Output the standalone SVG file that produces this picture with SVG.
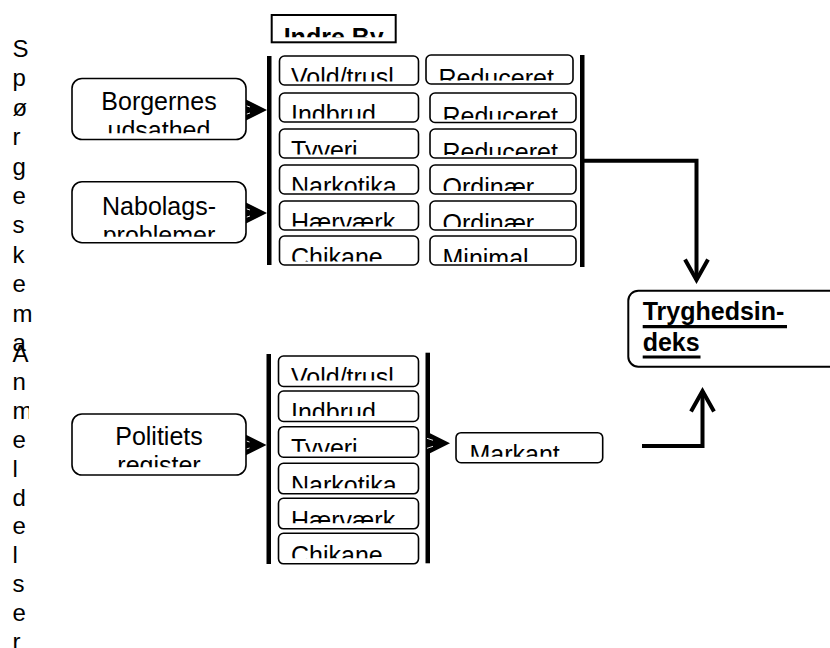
<svg xmlns="http://www.w3.org/2000/svg" width="830" height="648" viewBox="0 0 830 648">
<style>
.bx{fill:#fff;stroke:#000;stroke-width:1.6}
.bx2{fill:#fff;stroke:#000;stroke-width:2}
.t{font-family:"Liberation Sans",Arial,sans-serif;font-size:25px;fill:#000}
.c{text-anchor:middle}
.bd{font-weight:bold}
.bar{fill:#000}
.cn{fill:none;stroke:#000;stroke-width:4;stroke-linejoin:miter}
.hd{fill:none;stroke:none}
.sd{font-family:"Liberation Sans",Arial,sans-serif;font-size:24px;fill:#000}
.ul{stroke:#000;stroke-width:3.2}
</style>
<defs>
<marker id="tri" markerUnits="userSpaceOnUse" markerWidth="30" markerHeight="30" refX="0" refY="0" orient="auto" overflow="visible">
<polygon points="0,0 -22,-11 -22,11" fill="#000"/>
<path d="M-23,-5 L-17,-3 M-23,5 L-17,3" stroke="#fff" stroke-width="0.9" fill="none"/>
</marker>
<marker id="chev" markerUnits="userSpaceOnUse" markerWidth="30" markerHeight="30" refX="0" refY="0" orient="auto" overflow="visible">
<path d="M-20.5,-11.5 L0,0 L-20.5,11.5" fill="none" stroke="#000" stroke-width="4" stroke-linejoin="miter"/>
</marker>
<clipPath id="cpI"><rect x="273" y="16" width="122" height="21.3"/></clipPath>
<clipPath id="cpB"><rect x="73" y="79.5" width="172" height="53.8"/></clipPath>
<clipPath id="cpN"><rect x="73" y="182.7" width="172" height="54"/></clipPath>
<clipPath id="cpP"><rect x="73" y="415" width="172" height="52.3"/></clipPath>
<clipPath id="u1"><rect x="280" y="57" width="138" height="24.5"/></clipPath>
<clipPath id="u2"><rect x="280" y="94" width="138" height="24.5"/></clipPath>
<clipPath id="u3"><rect x="280" y="130" width="138" height="24.5"/></clipPath>
<clipPath id="u4"><rect x="280" y="166" width="138" height="24.5"/></clipPath>
<clipPath id="u5"><rect x="280" y="202" width="138" height="24.5"/></clipPath>
<clipPath id="u6"><rect x="280" y="237" width="138" height="24.5"/></clipPath>
<clipPath id="r1"><rect x="427" y="56" width="145" height="24.5"/></clipPath>
<clipPath id="r2"><rect x="431" y="94" width="144" height="25.5"/></clipPath>
<clipPath id="r3"><rect x="431" y="130" width="144" height="25"/></clipPath>
<clipPath id="r4"><rect x="431" y="166" width="144" height="25"/></clipPath>
<clipPath id="r5"><rect x="431" y="202" width="144" height="25"/></clipPath>
<clipPath id="r6"><rect x="431" y="237" width="144" height="25"/></clipPath>
<clipPath id="l1"><rect x="279" y="357" width="139" height="23.5"/></clipPath>
<clipPath id="l2"><rect x="279" y="392" width="139" height="24"/></clipPath>
<clipPath id="l3"><rect x="279" y="427.7" width="139" height="24"/></clipPath>
<clipPath id="l4"><rect x="279" y="464.3" width="139" height="24"/></clipPath>
<clipPath id="l5"><rect x="279" y="499.3" width="139" height="24"/></clipPath>
<clipPath id="l6"><rect x="279" y="534.3" width="139" height="24"/></clipPath>
<clipPath id="cpM"><rect x="457" y="433.7" width="145" height="23"/></clipPath>
<clipPath id="cpL"><rect x="0" y="330" width="29" height="330"/></clipPath>
</defs>
<rect x="0" y="0" width="830" height="648" fill="#fff"/>

<g id="label-spoergeskema">
<text class="sd"><tspan x="12.5" y="57">S</tspan><tspan x="12.5" y="86.4">p</tspan><tspan x="12.5" y="115.8">ø</tspan><tspan x="12.5" y="145.2">r</tspan><tspan x="12.5" y="174.6">g</tspan><tspan x="12.5" y="204">e</tspan><tspan x="12.5" y="233.4">s</tspan><tspan x="12.5" y="262.8">k</tspan><tspan x="12.5" y="292.2">e</tspan><tspan x="12.5" y="321.6">m</tspan><tspan x="12.5" y="351">a</tspan></text>
</g>
<g id="label-anmeldelser" clip-path="url(#cpL)">
<text class="sd"><tspan x="12.5" y="361.5">A</tspan><tspan x="12.5" y="390.3">n</tspan><tspan x="12.5" y="419.1">m</tspan><tspan x="12.5" y="447.9">e</tspan><tspan x="12.5" y="476.7">l</tspan><tspan x="12.5" y="505.5">d</tspan><tspan x="12.5" y="534.3">e</tspan><tspan x="12.5" y="563.1">l</tspan><tspan x="12.5" y="591.9">s</tspan><tspan x="12.5" y="620.7">e</tspan><tspan x="12.5" y="649.5">r</tspan></text>
</g>

<g id="connectors">
<rect class="bar" x="267" y="56" width="4.5" height="209"/>
<rect class="bar" x="580" y="55" width="4.5" height="212"/>
<rect class="bar" x="266.5" y="354" width="4.5" height="210"/>
<rect class="bar" x="425.5" y="352.7" width="4.5" height="210.6"/>
<path class="hd" d="M245,110 H267" marker-end="url(#tri)"/>
<path class="hd" d="M245,213 H267" marker-end="url(#tri)"/>
<path class="hd" d="M245,445 H266.5" marker-end="url(#tri)"/>
<path class="hd" d="M430,443.3 H450" marker-end="url(#tri)"/>
<path class="cn" d="M584,160.7 H696.5 V280" marker-end="url(#chev)"/>
<path class="cn" d="M642,446 H702.5 V391" marker-end="url(#chev)"/>
</g>

<g id="node-indre-by">
<rect class="bx2" x="271.7" y="15" width="124" height="27.3"/>
<text class="t bd c" x="333.7" y="46.3" clip-path="url(#cpI)">Indre By</text>
</g>

<g id="node-borgernes">
<rect class="bx" x="72" y="78.5" width="174" height="61" rx="10"/>
<text class="t c" clip-path="url(#cpB)"><tspan x="159" y="110">Borgernes</tspan><tspan x="159" y="138.75">udsathed</tspan></text>
</g>
<g id="node-nabolags">
<rect class="bx" x="72" y="181.7" width="174" height="61" rx="10"/>
<text class="t c" clip-path="url(#cpN)"><tspan x="159" y="215">Nabolags-</tspan><tspan x="159" y="243.75">problemer</tspan></text>
</g>
<g id="node-politiets">
<rect class="bx" x="72" y="414" width="174" height="61" rx="10"/>
<text class="t c" clip-path="url(#cpP)"><tspan x="159" y="445">Politiets</tspan><tspan x="159" y="473.75">register</tspan></text>
</g>

<g id="node-u-vold"><rect class="bx" x="279.5" y="56" width="139" height="29" rx="5"/><text class="t" x="291" y="86" clip-path="url(#u1)">Vold/trusl</text></g>
<g id="node-u-indbrud"><rect class="bx" x="279.5" y="93" width="139" height="29" rx="5"/><text class="t" x="291" y="123" clip-path="url(#u2)">Indbrud</text></g>
<g id="node-u-tyveri"><rect class="bx" x="279.5" y="129" width="139" height="29" rx="5"/><text class="t" x="291" y="159" clip-path="url(#u3)">Tyveri</text></g>
<g id="node-u-narkotika"><rect class="bx" x="279.5" y="165" width="139" height="29" rx="5"/><text class="t" x="291" y="195" clip-path="url(#u4)">Narkotika</text></g>
<g id="node-u-haervaerk"><rect class="bx" x="279.5" y="201" width="139" height="29" rx="5"/><text class="t" x="291" y="231" clip-path="url(#u5)">Hærværk</text></g>
<g id="node-u-chikane"><rect class="bx" x="279.5" y="236" width="139" height="29" rx="5"/><text class="t" x="291" y="266" clip-path="url(#u6)">Chikane</text></g>

<g id="node-r-1"><rect class="bx" x="426" y="55" width="147" height="29" rx="5"/><text class="t" x="438.5" y="86.5" clip-path="url(#r1)">Reduceret</text></g>
<g id="node-r-2"><rect class="bx" x="430" y="93" width="146" height="29.5" rx="5"/><text class="t" x="442.5" y="124.5" clip-path="url(#r2)">Reduceret</text></g>
<g id="node-r-3"><rect class="bx" x="430" y="129" width="146" height="29" rx="5"/><text class="t" x="442.5" y="160.5" clip-path="url(#r3)">Reduceret</text></g>
<g id="node-r-4"><rect class="bx" x="430" y="165" width="146" height="29" rx="5"/><text class="t" x="442.5" y="196" clip-path="url(#r4)">Ordinær</text></g>
<g id="node-r-5"><rect class="bx" x="430" y="201" width="146" height="29" rx="5"/><text class="t" x="442.5" y="232" clip-path="url(#r5)">Ordinær</text></g>
<g id="node-r-6"><rect class="bx" x="430" y="236" width="146" height="29" rx="5"/><text class="t" x="442.5" y="267" clip-path="url(#r6)">Minimal</text></g>

<g id="node-l-vold"><rect class="bx" x="278.5" y="356" width="140" height="30.5" rx="5"/><text class="t" x="291" y="386.3" clip-path="url(#l1)">Vold/trusl</text></g>
<g id="node-l-indbrud"><rect class="bx" x="278.5" y="391" width="140" height="30.5" rx="5"/><text class="t" x="291" y="421.3" clip-path="url(#l2)">Indbrud</text></g>
<g id="node-l-tyveri"><rect class="bx" x="278.5" y="426.7" width="140" height="30.5" rx="5"/><text class="t" x="291" y="457" clip-path="url(#l3)">Tyveri</text></g>
<g id="node-l-narkotika"><rect class="bx" x="278.5" y="463.3" width="140" height="30.5" rx="5"/><text class="t" x="291" y="493.6" clip-path="url(#l4)">Narkotika</text></g>
<g id="node-l-haervaerk"><rect class="bx" x="278.5" y="498.3" width="140" height="30.5" rx="5"/><text class="t" x="291" y="528.6" clip-path="url(#l5)">Hærværk</text></g>
<g id="node-l-chikane"><rect class="bx" x="278.5" y="533.3" width="140" height="30.5" rx="5"/><text class="t" x="291" y="563.6" clip-path="url(#l6)">Chikane</text></g>

<g id="node-markant"><rect class="bx" x="456" y="432.7" width="146.7" height="30" rx="5"/><text class="t" x="469.5" y="463" clip-path="url(#cpM)">Markant</text></g>

<g id="node-tryghedsindeks">
<rect class="bx2" x="628.3" y="290.7" width="230" height="76" rx="10"/>
<text class="t bd"><tspan x="642.7" y="320">Tryghedsin-</tspan><tspan x="642.7" y="350.5">deks</tspan></text>
<line class="ul" x1="642.7" y1="326.6" x2="787" y2="326.6"/>
<line class="ul" x1="642.7" y1="357" x2="700.5" y2="357"/>
</g>
</svg>
